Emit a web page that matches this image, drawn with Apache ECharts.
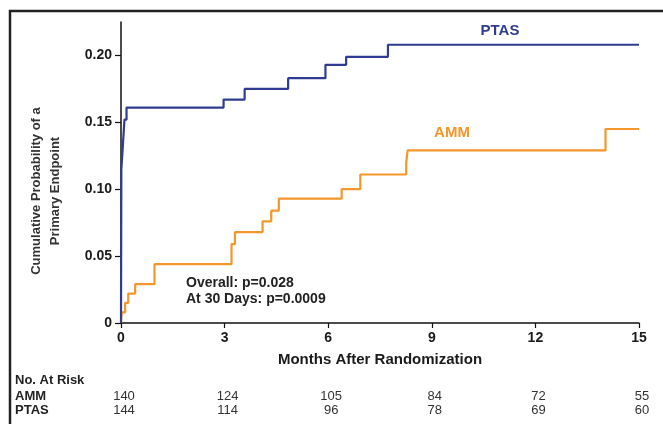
<!DOCTYPE html>
<html>
<head>
<meta charset="utf-8">
<script src="https://cdn.jsdelivr.net/npm/echarts@6/dist/echarts.min.js"></script>
<style>
  html, body { margin: 0; padding: 0; background: #fff; }
  #main { width: 663px; height: 424px; }
</style>
</head>
<body>
<div id="main"></div>
<script>
// Kaplan-Meier style cumulative curves (months, probability)
var ptasMonths = [0, 0.01, 0.05, 0.10, 0.16, 2.97, 3.58, 4.84, 5.92, 6.52, 7.73, 15];
var ptasValues = [0, 0.115, 0.131, 0.152, 0.161, 0.167, 0.175, 0.183, 0.193, 0.199, 0.208, 0.208];

var ammMonths = [0, 0.02, 0.12, 0.21, 0.41, 0.97, 3.20, 3.30, 4.10, 4.35, 4.57, 6.39, 6.93, 8.26, 8.30, 14.03, 15];
var ammValues = [0, 0.008, 0.015, 0.022, 0.029, 0.044, 0.059, 0.068, 0.076, 0.084, 0.093, 0.100, 0.111, 0.120, 0.129, 0.145, 0.145];

var yTicks = [0, 0.05, 0.10, 0.15, 0.20];

// number at risk table
var riskMonths = [0, 3, 6, 9, 12, 15];
var riskAMM = [140, 124, 105, 84, 72, 55];
var riskPTAS = [144, 114, 96, 78, 69, 60];

var blue = '#2f3c92';
var orange = '#f5962a';
var font = 'Arial, "Liberation Sans", sans-serif';

function pairs(xs, ys) {
    return xs.map(function (x, i) { return [x, ys[i]]; });
}

var chart = echarts.init(document.getElementById('main'), null, { renderer: 'canvas' });
chart.setOption({
    animation: false,
    textStyle: { fontFamily: font },
    grid: { left: 121, right: 24, top: 22, bottom: 101 },
    xAxis: {
        type: 'value',
        min: 0, max: 15, interval: 3,
        name: 'Months After Randomization',
        nameLocation: 'middle',
        nameGap: 29,
        nameTextStyle: { fontSize: 15, fontWeight: 'bold', color: '#1a1a1a', fontFamily: font },
        axisLine: { lineStyle: { color: '#111', width: 1.5 } },
        axisTick: { length: 5, lineStyle: { color: '#111', width: 1.2 } },
        axisLabel: { fontSize: 14, fontWeight: 'bold', color: '#1a1a1a', margin: 8, fontFamily: font },
        splitLine: { show: false }
    },
    yAxis: {
        type: 'value',
        min: 0, max: 0.225,
        axisLine: { show: true, lineStyle: { color: '#111', width: 1.5 } },
        axisTick: { show: true, length: 6, customValues: yTicks, lineStyle: { color: '#111', width: 1.2 } },
        axisLabel: {
            fontSize: 14, fontWeight: 'bold', color: '#1a1a1a', margin: 9, fontFamily: font,
            customValues: yTicks,
            formatter: function (v) { return v === 0 ? '0' : v.toFixed(2); }
        },
        splitLine: { show: false }
    },
    series: [
        {
            name: 'AMM', type: 'line', step: 'end', showSymbol: false,
            data: pairs(ammMonths, ammValues),
            lineStyle: { color: orange, width: 2.2 }, z: 3
        },
        {
            name: 'PTAS', type: 'line', step: 'end', showSymbol: false,
            data: pairs(ptasMonths, ptasValues),
            lineStyle: { color: blue, width: 2.2 }, z: 4
        }
    ]
});

// frame, annotations and at-risk table
var g = [];
g.push({
    type: 'rect', shape: { x: 10, y: 11, width: 720, height: 500 },
    style: { fill: 'none', stroke: '#222', lineWidth: 2.5 }, silent: true
});
g.push({
    type: 'text', x: 46, y: 191, rotation: Math.PI / 2,
    style: {
        text: 'Cumulative Probability of a\nPrimary Endpoint',
        font: 'bold 13px ' + font, fill: '#333', align: 'center', verticalAlign: 'middle', lineHeight: 19
    }
});
g.push({ type: 'text', x: 500, y: 31, style: { text: 'PTAS', font: 'bold 15px ' + font, fill: blue, align: 'center', verticalAlign: 'middle' } });
g.push({ type: 'text', x: 452, y: 133, style: { text: 'AMM', font: 'bold 15px ' + font, fill: orange, align: 'center', verticalAlign: 'middle' } });
g.push({
    type: 'text', x: 186, y: 291,
    style: { text: 'Overall: p=0.028\nAt 30 Days: p=0.0009', font: 'bold 14px ' + font, fill: '#222', verticalAlign: 'middle', lineHeight: 16 }
});
g.push({ type: 'text', x: 15, y: 380, style: { text: 'No. At Risk', font: 'bold 13px ' + font, fill: '#222', verticalAlign: 'middle' } });
g.push({ type: 'text', x: 15, y: 396, style: { text: 'AMM', font: 'bold 13px ' + font, fill: '#222', verticalAlign: 'middle' } });
g.push({ type: 'text', x: 15, y: 410, style: { text: 'PTAS', font: 'bold 13px ' + font, fill: '#222', verticalAlign: 'middle' } });
riskMonths.forEach(function (m, i) {
    var px = chart.convertToPixel({ xAxisIndex: 0 }, m) + 3;
    g.push({ type: 'text', x: px, y: 396, style: { text: String(riskAMM[i]), font: '13px ' + font, fill: '#333', align: 'center', verticalAlign: 'middle' } });
    g.push({ type: 'text', x: px, y: 410, style: { text: String(riskPTAS[i]), font: '13px ' + font, fill: '#333', align: 'center', verticalAlign: 'middle' } });
});
chart.setOption({ graphic: g });
</script>
</body>
</html>
